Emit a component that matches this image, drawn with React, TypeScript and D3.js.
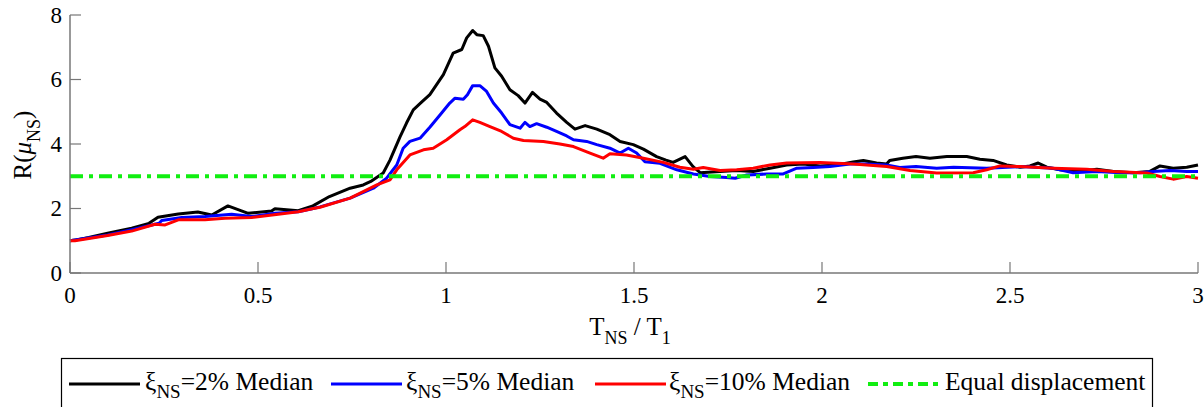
import React from "react";
import * as d3 from "d3";

const WIDTH = 1204;
const HEIGHT = 407;
const FONT = "'Liberation Serif', 'Times New Roman', serif";

// [T_NS / T_1, R(mu_NS)]
const median2 = [
  [0, 1.0], [0.013, 1.02], [0.05, 1.1], [0.1, 1.23], [0.164, 1.39], [0.21, 1.54], [0.234, 1.73],
  [0.288, 1.83], [0.34, 1.89], [0.377, 1.8], [0.42, 2.08], [0.474, 1.85], [0.536, 1.92], [0.545, 1.99],
  [0.607, 1.93], [0.646, 2.08], [0.69, 2.37], [0.745, 2.63], [0.78, 2.73], [0.8, 2.84], [0.833, 3.1],
  [0.851, 3.5], [0.878, 4.23], [0.895, 4.65], [0.913, 5.06], [0.935, 5.3], [0.957, 5.53], [0.993, 6.15],
  [1.019, 6.82], [1.042, 6.93], [1.055, 7.29], [1.071, 7.52], [1.082, 7.39], [1.099, 7.36], [1.113, 7.03],
  [1.13, 6.36], [1.148, 6.1], [1.17, 5.68], [1.192, 5.5], [1.21, 5.27], [1.23, 5.6], [1.25, 5.39],
  [1.268, 5.29], [1.294, 4.96], [1.321, 4.67], [1.343, 4.46], [1.37, 4.57], [1.401, 4.46], [1.436, 4.29],
  [1.463, 4.08], [1.498, 3.98], [1.525, 3.84], [1.56, 3.61], [1.585, 3.5], [1.604, 3.43], [1.636, 3.61],
  [1.657, 3.3], [1.676, 3.11], [1.729, 3.15], [1.773, 3.18], [1.817, 3.15], [1.862, 3.25], [1.906, 3.35],
  [1.95, 3.38], [1.995, 3.32], [2.039, 3.35], [2.083, 3.44], [2.11, 3.49], [2.145, 3.41], [2.172, 3.38],
  [2.18, 3.49], [2.215, 3.56], [2.25, 3.61], [2.287, 3.56], [2.332, 3.61], [2.385, 3.61], [2.42, 3.53],
  [2.455, 3.49], [2.491, 3.35], [2.527, 3.28], [2.553, 3.32], [2.575, 3.41], [2.598, 3.28], [2.633, 3.2],
  [2.677, 3.15], [2.731, 3.22], [2.775, 3.15], [2.828, 3.11], [2.872, 3.15], [2.899, 3.32], [2.934, 3.25],
  [2.97, 3.28], [3.0, 3.35],
];

const median5 = [
  [0, 1.0], [0.013, 1.02], [0.1, 1.18], [0.164, 1.34], [0.237, 1.54], [0.244, 1.63], [0.297, 1.72],
  [0.359, 1.75], [0.43, 1.82], [0.483, 1.75], [0.545, 1.85], [0.607, 1.9], [0.647, 2.0], [0.665, 2.05],
  [0.745, 2.32], [0.807, 2.63], [0.842, 2.94], [0.869, 3.35], [0.886, 3.87], [0.904, 4.08], [0.931, 4.18],
  [0.957, 4.52], [0.984, 4.9], [1.01, 5.27], [1.024, 5.42], [1.046, 5.39], [1.057, 5.53], [1.071, 5.81],
  [1.09, 5.81], [1.108, 5.63], [1.126, 5.27], [1.148, 4.96], [1.17, 4.6], [1.197, 4.49], [1.21, 4.67],
  [1.223, 4.54], [1.241, 4.63], [1.268, 4.52], [1.294, 4.39], [1.321, 4.25], [1.339, 4.13], [1.374, 4.08],
  [1.401, 3.98], [1.436, 3.87], [1.463, 3.72], [1.485, 3.87], [1.507, 3.72], [1.529, 3.45], [1.569, 3.4],
  [1.614, 3.2], [1.658, 3.07], [1.702, 2.99], [1.746, 2.96], [1.769, 2.94], [1.8, 3.04], [1.853, 3.07],
  [1.897, 3.07], [1.933, 3.25], [1.977, 3.27], [2.021, 3.3], [2.074, 3.38], [2.119, 3.38], [2.172, 3.35],
  [2.207, 3.27], [2.25, 3.3], [2.305, 3.25], [2.35, 3.28], [2.438, 3.25], [2.527, 3.3], [2.615, 3.25],
  [2.668, 3.11], [2.731, 3.15], [2.793, 3.11], [2.846, 3.11], [2.88, 3.15], [2.926, 3.18], [2.97, 3.15],
  [3.0, 3.15],
];

const median10 = [
  [0, 1.0], [0.013, 1.0], [0.1, 1.16], [0.164, 1.3], [0.226, 1.51], [0.253, 1.49], [0.288, 1.65],
  [0.359, 1.65], [0.412, 1.7], [0.483, 1.72], [0.554, 1.82], [0.607, 1.9], [0.647, 2.0], [0.665, 2.04],
  [0.745, 2.32], [0.816, 2.73], [0.851, 2.89], [0.869, 3.2], [0.904, 3.66], [0.94, 3.82], [0.966, 3.87],
  [1.002, 4.13], [1.037, 4.44], [1.05, 4.54], [1.071, 4.75], [1.09, 4.67], [1.117, 4.54], [1.148, 4.39],
  [1.179, 4.18], [1.206, 4.11], [1.259, 4.08], [1.303, 4.0], [1.339, 3.92], [1.383, 3.72], [1.418, 3.56],
  [1.436, 3.7], [1.48, 3.66], [1.525, 3.56], [1.578, 3.43], [1.622, 3.28], [1.658, 3.22], [1.684, 3.27],
  [1.729, 3.18], [1.773, 3.2], [1.817, 3.25], [1.862, 3.35], [1.906, 3.41], [1.995, 3.43], [2.083, 3.38],
  [2.172, 3.3], [2.234, 3.18], [2.305, 3.1], [2.402, 3.11], [2.438, 3.2], [2.473, 3.32], [2.527, 3.3],
  [2.615, 3.25], [2.704, 3.22], [2.775, 3.15], [2.864, 3.1], [2.899, 2.99], [2.934, 2.91], [2.97, 2.99],
  [3.0, 2.94],
];

const equalDisplacement = [[0, 3], [3, 3]];

const xTicks = [0, 0.5, 1, 1.5, 2, 2.5, 3];
const xTickLabels = ["0", "0.5", "1", "1.5", "2", "2.5", "3"];
const yTicks = [0, 2, 4, 6, 8];

const series = [
  { key: "m2", data: median2, color: "#000000", label: "=2% Median" },
  { key: "m5", data: median5, color: "#0000ff", label: "=5% Median" },
  { key: "m10", data: median10, color: "#ff0000", label: "=10% Median" },
];

const x = d3.scaleLinear().domain([0, 3]).range([70, 1198]);
const y = d3.scaleLinear().domain([0, 8]).range([273, 15]);

const line = d3
  .line<number[]>()
  .x((d) => x(d[0]))
  .y((d) => y(d[1]));

const AXIS = "#777777";
const GREEN = "#11ee11";
const DASH = "13,6,4,6";

export default function App() {
  const legendItems = [
    { lx: 69, tx: 145, ...series[0] },
    { lx: 331, tx: 406, ...series[1] },
    { lx: 595, tx: 669, ...series[2] },
  ];

  return (
    <svg
      width={WIDTH}
      height={HEIGHT}
      style={{ position: "absolute", left: 0, top: 0, background: "#fff" }}
      fontFamily={FONT}
    >
      {series.map((s) => (
        <path
          key={s.key}
          d={line(s.data) || ""}
          fill="none"
          stroke={s.color}
          strokeWidth={3}
          strokeLinejoin="round"
        />
      ))}
      <path d={line(equalDisplacement) || ""} fill="none" stroke={GREEN} strokeWidth={4} strokeDasharray={DASH} />

      {/* axes */}
      <line x1={x(0)} x2={x(0)} y1={y(0)} y2={y(8)} stroke={AXIS} strokeWidth={1.5} />
      <line x1={x(0)} x2={x(3)} y1={y(0)} y2={y(0)} stroke={AXIS} strokeWidth={1.5} />
      {yTicks.map((t) => (
        <g key={`y${t}`}>
          <line x1={x(0)} x2={x(0) + 11} y1={y(t)} y2={y(t)} stroke={AXIS} strokeWidth={1.2} />
          <text x={62} y={y(t)} dy="0.34em" textAnchor="end" fontSize={23} fill="#000">
            {t}
          </text>
        </g>
      ))}
      {xTicks.map((t, i) => (
        <g key={`x${t}`}>
          <line x1={x(t)} x2={x(t)} y1={y(0)} y2={y(0) - 11} stroke={AXIS} strokeWidth={1.2} />
          <text x={x(t)} y={303} textAnchor="middle" fontSize={23} fill="#000">
            {xTickLabels[i]}
          </text>
        </g>
      ))}

      {/* axis titles */}
      <text x={630} y={335} textAnchor="middle" fontSize={25} fill="#000">
        T<tspan fontSize={18} dy={9}>NS</tspan>
        <tspan dy={-9}> / T</tspan>
        <tspan fontSize={18} dy={9}>1</tspan>
      </text>
      <text transform="translate(31,145) rotate(-90)" textAnchor="middle" fontSize={25} fill="#000">
        R(<tspan fontStyle="italic">μ</tspan>
        <tspan fontSize={18} dy={9}>NS</tspan>
        <tspan dy={-9}>)</tspan>
      </text>

      {/* legend */}
      <rect x={61.5} y={358.5} width={1091} height={60} fill="#fff" stroke="#000" strokeWidth={1.2} />
      {legendItems.map((s) => (
        <g key={`lg${s.key}`}>
          <line x1={s.lx} x2={s.lx + 71} y1={384} y2={384} stroke={s.color} strokeWidth={3} />
          <text x={s.tx} y={390} fontSize={25.5} fill="#000">
            ξ<tspan fontSize={19} dy={8}>NS</tspan>
            <tspan dy={-8}>{s.label}</tspan>
          </text>
        </g>
      ))}
      <line x1={868} x2={939} y1={384} y2={384} stroke={GREEN} strokeWidth={4} strokeDasharray="10,5,5,5" />
      <text x={945} y={390} fontSize={25.5} fill="#000">
        Equal displacement
      </text>
    </svg>
  );
}
